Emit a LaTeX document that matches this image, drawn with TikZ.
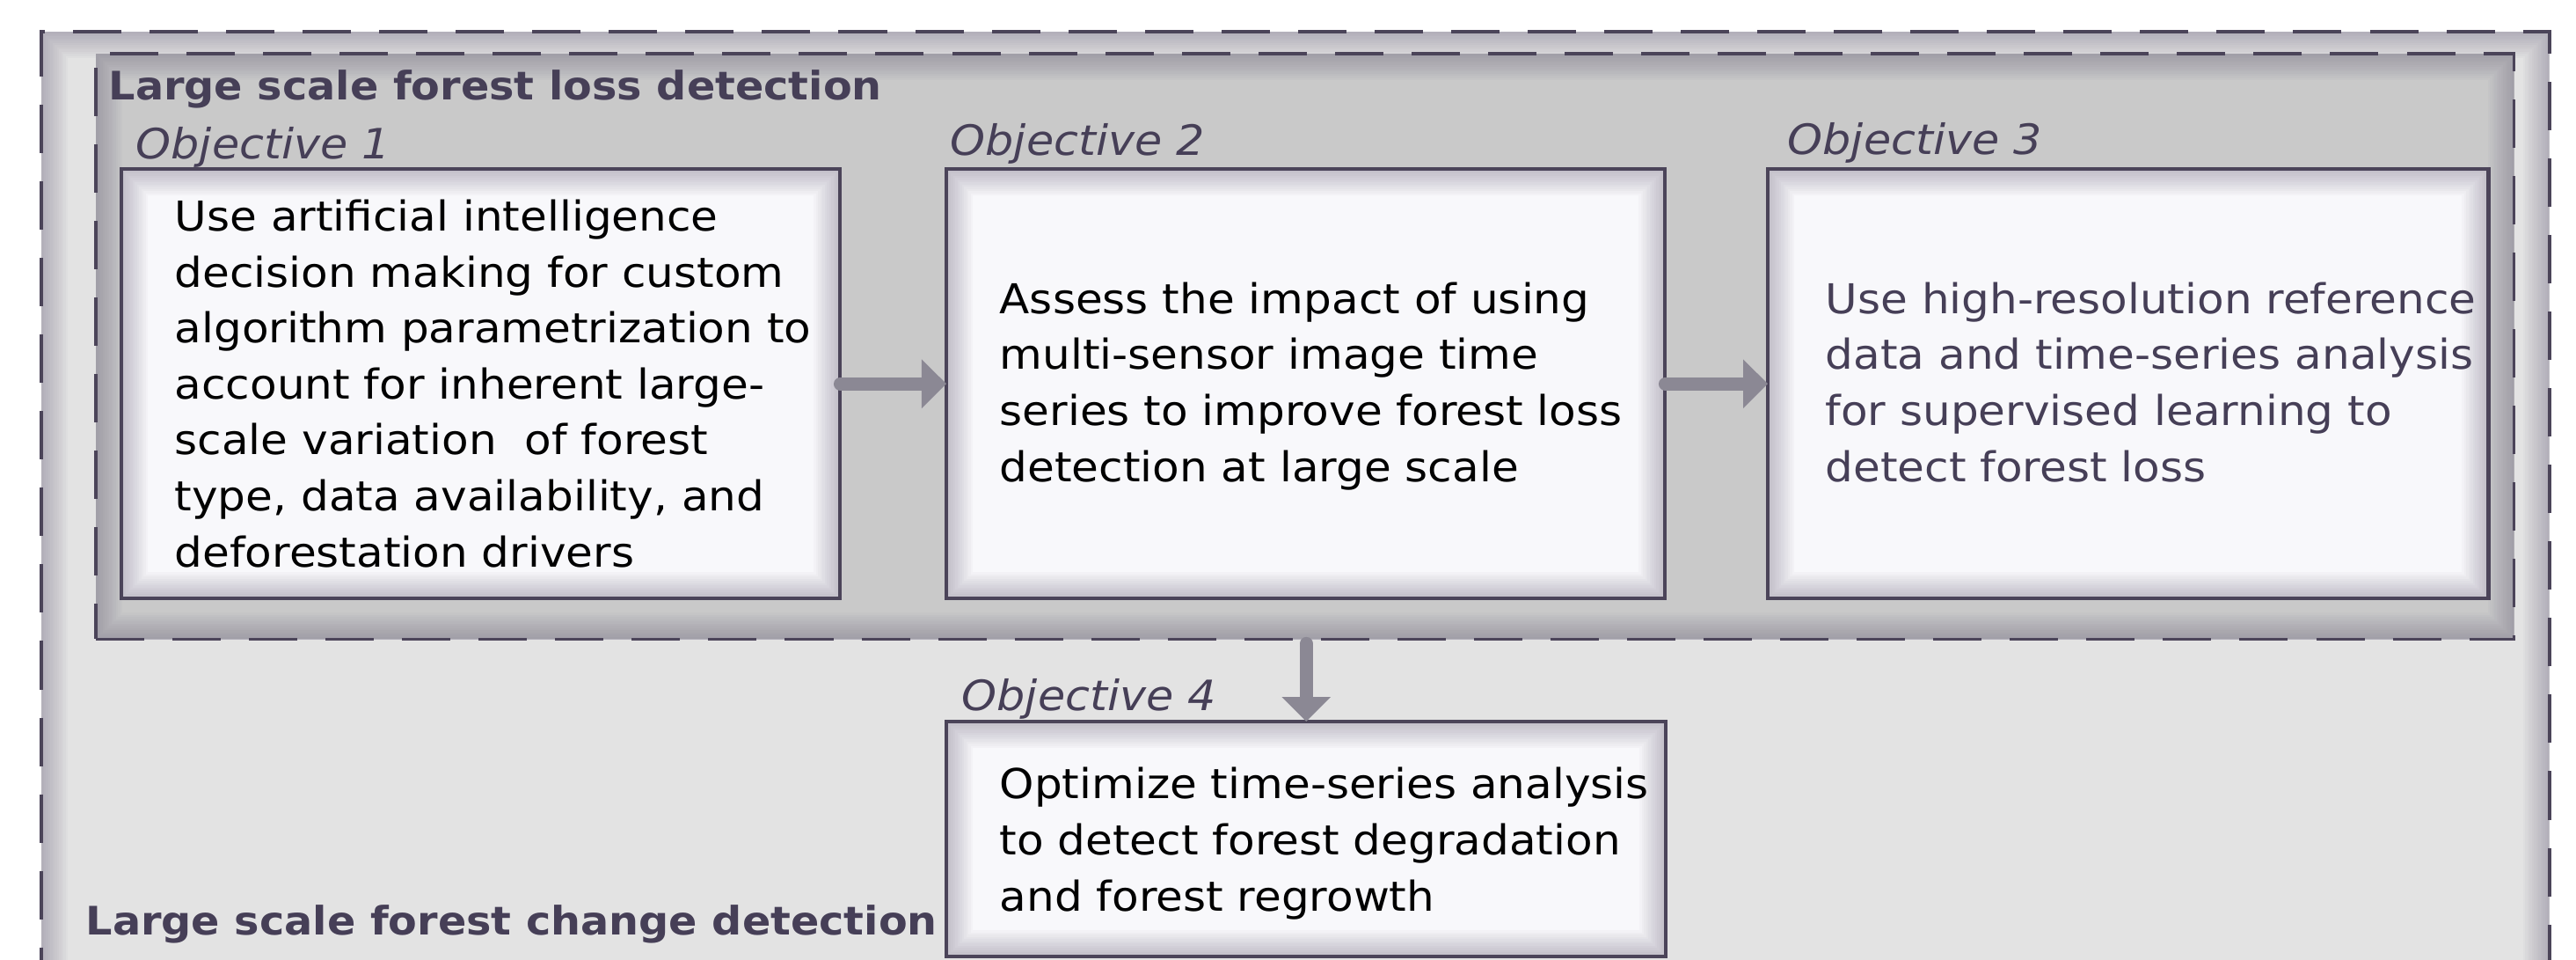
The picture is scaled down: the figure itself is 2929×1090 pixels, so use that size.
\documentclass[tikz,border=0pt]{standalone}
\usepackage{fontspec}
\setmainfont{DejaVu Sans}[FakeStretch=1.07]
\usetikzlibrary{arrows.meta}

\definecolor{frameline}{HTML}{4B4459}
\definecolor{outerfill}{HTML}{E3E3E3}
\definecolor{innerfill}{HTML}{C9C9C9}
\definecolor{boxfill}{HTML}{F8F8FB}
\definecolor{glowcol}{HTML}{5C5470}
\definecolor{arrowgray}{HTML}{8B8894}
\definecolor{headtext}{HTML}{463F57}

\tikzset{
  innerglow/.style={path picture={
    \foreach \w in {0.05,0.1,...,0.62}{
      \draw[glowcol, solid, line width=\w cm, opacity=0.03]
        (path picture bounding box.south west) rectangle (path picture bounding box.north east);}
  }},
  groupbox/.style={rectangle, draw=frameline, dash pattern=on 0.55cm off 0.32cm,
    inner sep=0pt, outer sep=0pt, anchor=north west, innerglow},
  objbox/.style={rectangle, draw=frameline, line width=0.04cm, fill=boxfill,
    inner sep=0pt, outer sep=0pt, anchor=north west, minimum width=8.17cm,
    minimum height=4.88cm, innerglow},
  % multi-line text: the base anchor sits on the last line
  bodytxt/.style={anchor=base west, align=left, inner sep=0pt,
    font=\fontsize{13.3}{18.07}\selectfont},
  headtxt/.style={anchor=base west, inner sep=0pt, text=headtext,
    font=\fontsize{12.68}{16}\selectfont\bfseries},
  objlabel/.style={anchor=base west, inner sep=0pt, text=headtext,
    font=\fontsize{13.5}{16}\selectfont\itshape},
  flow/.style={arrowgray, line width=0.15cm, line cap=round,
    -{Triangle[length=0.28cm, width=0.54cm]}}
}

\begin{document}
\begin{tikzpicture}[x=0.01cm, y=-0.01cm]
  \clip (0,0) rectangle (2929,1090);
  \fill[white] (0,0) rectangle (2929,1090);

  % outer group: forest change detection
  \node[groupbox, line width=0.04cm, fill=outerfill, minimum width=28.5cm,
        minimum height=10.9cm] (outer) at (47,36) {};
  % inner group: forest loss detection
  \node[groupbox, line width=0.035cm, fill=innerfill, minimum width=27.48cm,
        minimum height=6.65cm] (inner) at (109,61) {};

  \node[headtxt] (loss) at (123,113) {Large scale forest loss detection};
  \node[headtxt] (change) at (97,1062) {Large scale forest change detection};

  % objective boxes
  \node[objbox] (ob1) at (138,192) {};
  \node[objbox] (ob2) at (1076,192) {};
  \node[objbox, minimum width=8.19cm] (ob3) at (2010,192) {};
  \node[objbox, minimum width=8.18cm, minimum height=2.67cm] (ob4) at (1076,820) {};

  \node[objlabel] (lab1) at (154,180) {Objective 1};
  \node[objlabel] (lab2) at (1080,176) {Objective 2};
  \node[objlabel] (lab3) at (2032,175) {Objective 3};
  \node[objlabel] (lab4) at (1093,807) {Objective 4};

  \node[bodytxt] (tx1) at (198,644) {Use artificial intelligence\\
    decision making for custom\\
    algorithm parametrization to\\
    account for inherent large-\\
    scale variation\ \ of forest\\
    type, data availability, and\\
    deforestation drivers};
  \node[bodytxt] (tx2) at (1136,547) {Assess the impact of using\\
    multi-sensor image time\\
    series to improve forest loss\\
    detection at large scale};
  \node[bodytxt, text=headtext] (tx3) at (2075,547) {Use high-resolution reference\\
    data and time-series analysis\\
    for supervised learning to\\
    detect forest loss};
  \node[bodytxt] (tx4) at (1136,1035) {Optimize time-series analysis\\
    to detect forest degradation\\
    and forest regrowth};

  % connectors
  \coordinate (drop) at (ob4.north |- inner.south);
  \draw[flow] (ob1.east) -- (ob2.west);
  \draw[flow] (ob2.east) -- (ob3.west);
  \draw[flow] ([yshift=-0.05cm]drop) -- (ob4.north);
\end{tikzpicture}
\end{document}
